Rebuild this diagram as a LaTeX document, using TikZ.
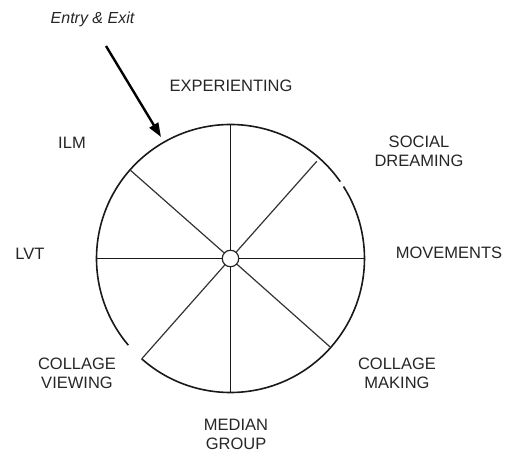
\documentclass[tikz,border=0pt]{standalone}
\usepackage{fontspec}
\setmainfont{Liberation Sans}
\usetikzlibrary{arrows.meta}
\begin{document}
\begin{tikzpicture}[x=1pt,y=-1pt,
  lbl/.style={font=\fontsize{16.5}{19}\selectfont, text=black!85, align=center, inner sep=0pt},
  ital/.style={font=\fontsize{16}{19}\selectfont\itshape, text=black!85, inner sep=0pt, anchor=base},
  rim/.style={line width=1.6pt, black!90},
  spoke/.style={line width=1.2pt, black!80},
  hubstyle/.style={circle, draw=black!85, line width=1.2pt, fill=white, minimum size=16.5pt, inner sep=0pt},
  entryarrow/.style={line width=2.4pt, black, -{Triangle[length=14pt,width=10pt]}}
]
\useasboundingbox (0,0) rectangle (508,455);
\coordinate (O) at (230.5,258.5);
\begin{scope}[shift={(230.5,258.5)}, y=1pt]
  \draw[rim] (228.5:134) arc[start angle=228.5, end angle=392.5, radius=134];
  \draw[rim] (35:134) arc[start angle=35, end angle=220.3, radius=134];
  \coordinate (pN) at (90:134);
  \coordinate (pS) at (270:134);
  \coordinate (pE) at (0:134);
  \coordinate (pW) at (180:134);
  \coordinate (pNW) at (138.6:134);
  \coordinate (pNE) at (48.4:130);
  \coordinate (pSE) at (-41.6:133);
  \coordinate (pSW) at (228.5:134);
\end{scope}
\node[hubstyle] (hub) at (O) {};
\foreach \p in {pN,pS,pE,pW} \draw[spoke, black!90] (hub) -- (\p);
\foreach \p in {pNW,pNE,pSE,pSW} \draw[spoke] (hub) -- (\p);

\coordinate (a0) at (106,46);
\coordinate (a1) at (161,137);
\draw[entryarrow] (a0) -- (a1);

\node[ital] (entry) at (92.5,23) {Entry \& Exit};
\node[lbl] (exp) at (231,86) {EXPERIENTING};
\node[lbl] (ilm) at (72,143) {ILM};
\node[lbl] (soc) at (419,151) {SOCIAL\\DREAMING};
\node[lbl] (lvt) at (30,254) {LVT};
\node[lbl] (mov) at (449,253) {MOVEMENTS};
\node[lbl] (cv) at (77,373.5) {COLLAGE\\VIEWING};
\node[lbl] (cm) at (397,373.5) {COLLAGE\\MAKING};
\node[lbl] (med) at (236,434) {MEDIAN\\GROUP};
\end{tikzpicture}
\end{document}
